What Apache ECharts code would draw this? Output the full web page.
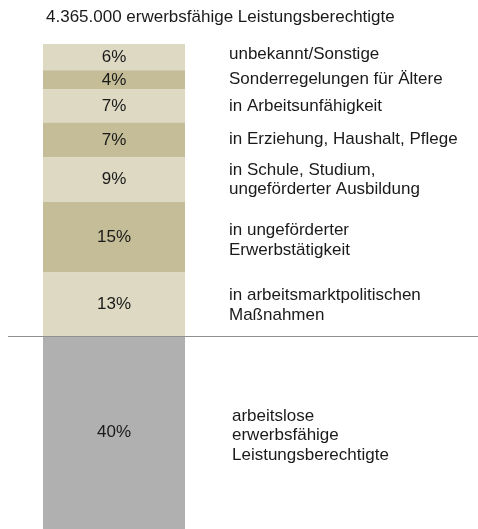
<!DOCTYPE html>
<html>
<head>
<meta charset="utf-8">
<script src="https://cdn.jsdelivr.net/npm/echarts@6/dist/echarts.min.js"></script>
<style>
  html, body { margin: 0; padding: 0; background: #fff; }
  #chart { width: 478px; height: 529px; }
</style>
</head>
<body>
<div id="chart"></div>
<script>
// Titel und Gruppen
const chartTitle = '4.365.000 erwerbsfähige Leistungsberechtigte'
const groups = [
  'unbekannt/Sonstige',
  'Sonderregelungen für Ältere',
  'in Arbeitsunfähigkeit',
  'in Erziehung, Haushalt, Pflege',
  'in Schule, Studium,\nungeförderter Ausbildung',
  'in ungeförderter\nErwerbstätigkeit',
  'in arbeitsmarktpolitischen\nMaßnahmen',
  'arbeitslose\nerwerbsfähige\nLeistungsberechtigte'
]
// Anteile in % (aus der Balkenhöhe geschätzt)
const shares = [5.5, 4.0, 6.9, 7.3, 9.2, 14.8, 13.3, 40.2]
// Trennlinie nach den ersten 7 Gruppen
const splitAfter = 7

const colors = ['#ddd9c3', '#c4bd97', '#ddd9c3', '#c4bd97', '#ddd9c3', '#c4bd97', '#ddd9c3', '#b0b0b0']
// kleine Verschiebungen der Beschriftung rechts (px)
const labelShift = [[0, -3], [0, -1], [0, 0], [0, -1], [0, 0], [0, 3], [0, 1], [3, 3]]
const font = 'Liberation Sans, Arial, sans-serif'
const textColor = '#1a1a1a'

const total = shares.reduce((a, b) => a + b, 0)

const chart = echarts.init(document.getElementById('chart'), null, { renderer: 'canvas' })

const series = shares.map((v, i) => ({
  type: 'bar',
  stack: 'all',
  barWidth: '100%',
  barCategoryGap: 0,
  silent: true,
  data: [
    {
      value: v,
      itemStyle: { color: colors[i] },
      label: {
        show: true,
        position: 'inside',
        formatter: Math.round(v) + '%',
        color: textColor,
        fontFamily: font,
        fontSize: 17
      }
    },
    {
      value: v,
      itemStyle: { color: 'rgba(0,0,0,0)' },
      label: {
        show: true,
        position: 'insideLeft',
        distance: 44,
        offset: labelShift[i],
        formatter: groups[i],
        color: textColor,
        fontFamily: font,
        fontSize: 17,
        lineHeight: 19.5,
        overflow: 'none'
      }
    }
  ]
}))

const option = {
  animation: false,
  title: {
    text: chartTitle,
    left: 46,
    top: 9,
    padding: 0,
    textStyle: { color: textColor, fontFamily: font, fontSize: 17, fontWeight: 'normal' }
  },
  grid: { left: 43, top: 44, width: 284, bottom: 0 },
  xAxis: { type: 'category', data: ['bar', 'text'], show: false },
  yAxis: { type: 'value', inverse: true, min: 0, max: total, show: false },
  series: series
}

chart.setOption(option)

// Trennlinie zwischen Arbeitslosen und den übrigen Gruppen
const splitValue = shares.slice(0, splitAfter).reduce((a, b) => a + b, 0)
const ySplit = Math.round(chart.convertToPixel({ yAxisIndex: 0 }, splitValue)) + 0.5
chart.setOption({
  graphic: [{
    type: 'line',
    shape: { x1: 8, y1: ySplit, x2: 478, y2: ySplit },
    style: { stroke: '#909090', lineWidth: 1 },
    z: 100
  }]
})
</script>
</body>
</html>
